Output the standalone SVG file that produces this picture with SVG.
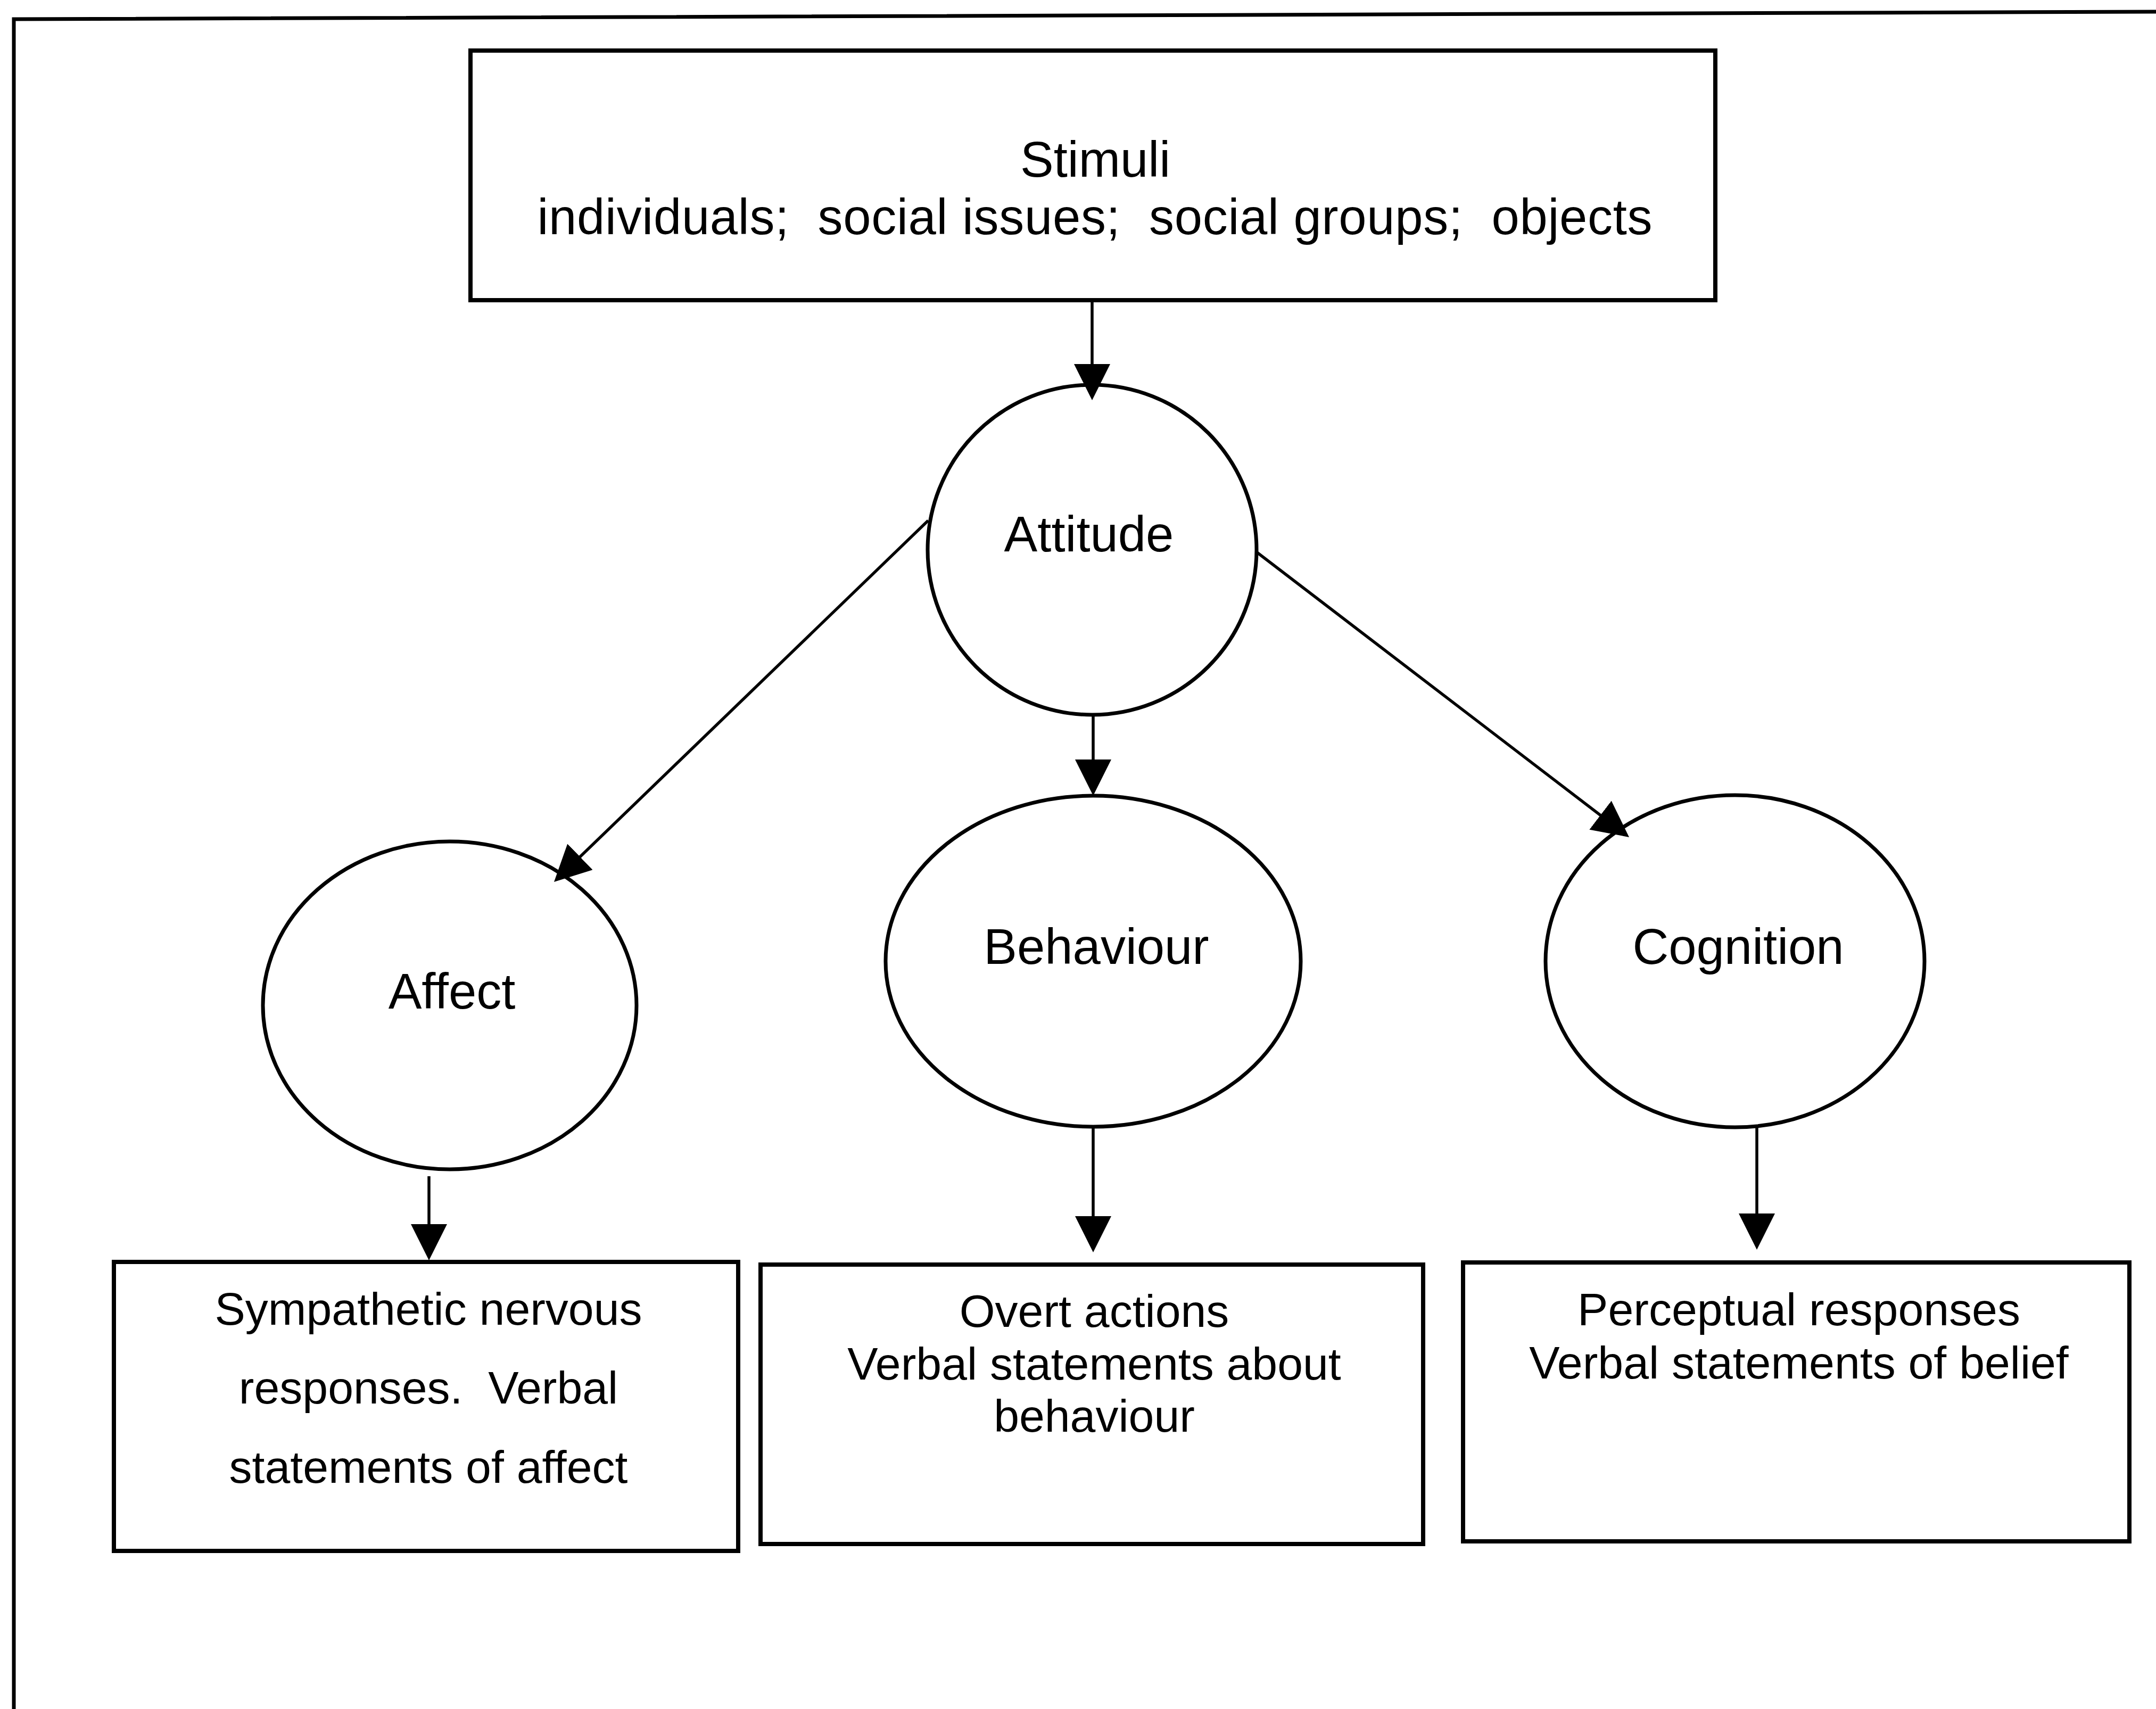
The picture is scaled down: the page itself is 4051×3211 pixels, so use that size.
<svg xmlns="http://www.w3.org/2000/svg" width="4051" height="3211" viewBox="0 0 4051 3211">
<style>
  .frame { fill: none; stroke: #000; stroke-width: 7; }
  .box { fill: #fff; stroke: #000; stroke-width: 8; }
  .node { fill: #fff; stroke: #000; stroke-width: 7; }
  .edge { fill: none; stroke: #000; stroke-width: 5.5; marker-end: url(#arrow); }
  text { font-family: "Liberation Sans", Arial, sans-serif; fill: #000; text-anchor: middle; }
  .lbl { font-size: 94px; }
  .small { font-size: 86px; }
</style>
<defs>
  <marker id="arrow" viewBox="0 0 68 68" refX="58" refY="34" markerWidth="68" markerHeight="68" markerUnits="userSpaceOnUse" orient="auto">
    <path d="M0,0 L68,34 L0,68 z" fill="#000"/>
  </marker>
</defs>
<rect width="4051" height="3211" fill="#fff"/>
<path class="frame" d="M26,3211 L26,36 L4051,22"/>

<g id="stimuli">
  <rect class="box" x="884" y="95" width="2339" height="469"/>
  <text class="lbl" x="2058" y="332">Stimuli</text>
  <text class="lbl" x="2057" y="440" xml:space="preserve" textLength="2095" lengthAdjust="spacing">individuals;  social issues;  social groups;  objects</text>
</g>

<g id="attitude">
  <ellipse class="node" cx="2052" cy="1033" rx="309" ry="310"/>
  <text class="lbl" x="2046" y="1036">Attitude</text>
</g>

<g id="affect">
  <ellipse class="node" cx="845" cy="1889" rx="351" ry="308"/>
  <text class="lbl" x="849" y="1895">Affect</text>
</g>

<g id="behaviour">
  <ellipse class="node" cx="2054" cy="1806" rx="390" ry="311"/>
  <text class="lbl" x="2060" y="1811">Behaviour</text>
</g>

<g id="cognition">
  <ellipse class="node" cx="3260" cy="1806" rx="356" ry="312"/>
  <text class="lbl" x="3266" y="1811">Cognition</text>
</g>

<g id="affect-responses">
  <rect class="box" x="214" y="2371" width="1173" height="543"/>
  <text class="small" x="805" y="2489">Sympathetic nervous</text>
  <text class="small" x="805" y="2637" xml:space="preserve">responses.  Verbal</text>
  <text class="small" x="805" y="2786">statements of affect</text>
</g>

<g id="behaviour-responses">
  <rect class="box" x="1429" y="2376" width="1245" height="525"/>
  <text class="small" x="2056" y="2493">Overt actions</text>
  <text class="small" x="2056" y="2592">Verbal statements about</text>
  <text class="small" x="2056" y="2690">behaviour</text>
</g>

<g id="cognition-responses">
  <rect class="box" x="2749" y="2372" width="1252" height="524"/>
  <text class="small" x="3380" y="2490">Perceptual responses</text>
  <text class="small" x="3380" y="2590">Verbal statements of belief</text>
</g>

<g id="connectors">
  <line class="edge" x1="2052" y1="564" x2="2052" y2="742"/>
  <line class="edge" x1="2054" y1="1344" x2="2054" y2="1485"/>
  <line class="edge" x1="1744" y1="978" x2="1048.2" y2="1650.1"/>
  <line class="edge" x1="2362" y1="1038" x2="3053.1" y2="1566.9"/>
  <line class="edge" x1="806" y1="2210" x2="806" y2="2358"/>
  <line class="edge" x1="2054" y1="2117" x2="2054" y2="2343"/>
  <line class="edge" x1="3301" y1="2117" x2="3301" y2="2338"/>
</g>
</svg>
